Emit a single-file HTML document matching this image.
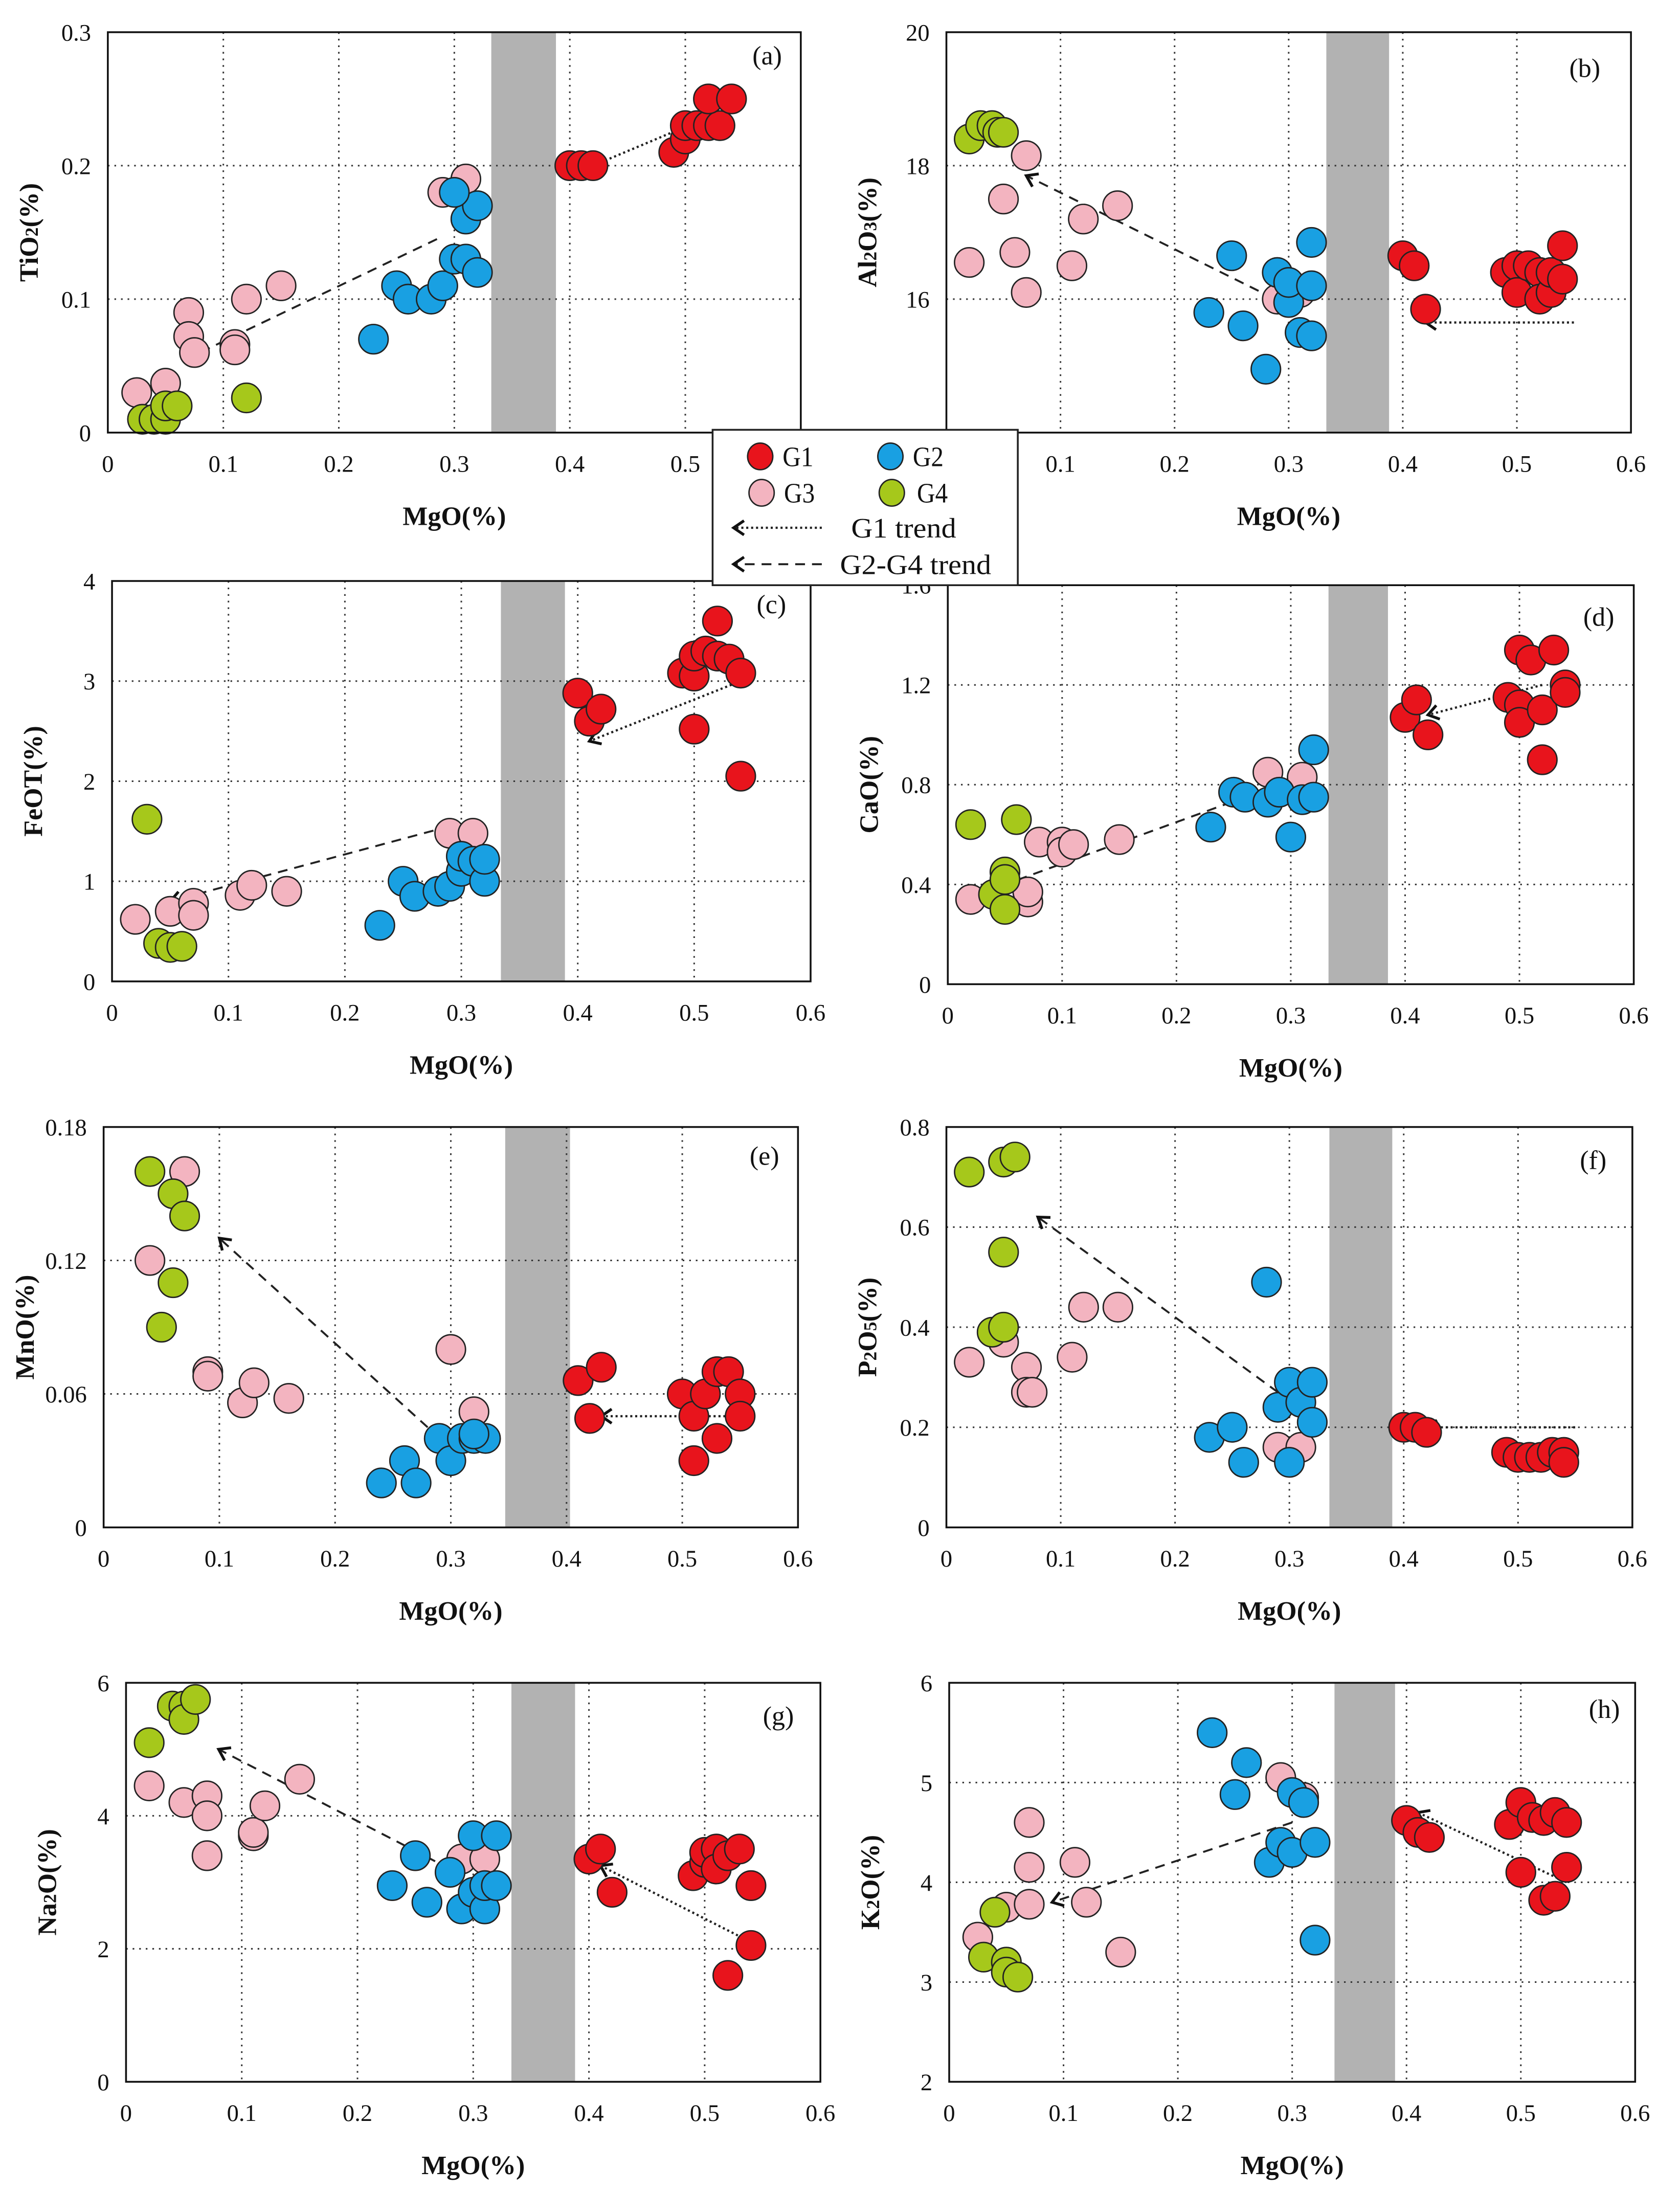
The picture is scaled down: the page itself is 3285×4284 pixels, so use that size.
<!DOCTYPE html>
<html><head><meta charset="utf-8"><style>
html,body{margin:0;padding:0;background:#fff}
svg{display:block}
text{font-family:"Liberation Serif",serif;fill:#111}
</style></head><body>
<svg id="fig" width="3285" height="4284" viewBox="0 0 1200 1565" xmlns="http://www.w3.org/2000/svg">
<rect width="1200" height="1565" fill="#fff"/>
</svg>
<script>
// ---- data (MgO %, oxide %) ----
const xTicks = [0,0.1,0.2,0.3,0.4,0.5,0.6];
const tiG1x=[0.40,0.41,0.42,0.49,0.50,0.50,0.51,0.52,0.53,0.52,0.54];
const tiG1y=[0.20,0.20,0.20,0.21,0.22,0.23,0.23,0.23,0.23,0.25,0.25];
const tiG2x=[0.23,0.25,0.26,0.28,0.29,0.30,0.31,0.32,0.31,0.32,0.30];
const tiG2y=[0.07,0.11,0.10,0.10,0.11,0.13,0.13,0.12,0.16,0.17,0.18];
const tiG3x=[0.025,0.05,0.07,0.07,0.075,0.11,0.11,0.12,0.15,0.29,0.31];
const tiG3y=[0.03,0.037,0.09,0.072,0.06,0.066,0.062,0.10,0.11,0.18,0.19];
const tiG4x=[0.03,0.04,0.05,0.05,0.06,0.12];
const tiG4y=[0.01,0.01,0.01,0.02,0.02,0.026];

const alG1x=[0.40,0.41,0.42,0.49,0.50,0.50,0.51,0.52,0.52,0.53,0.53,0.54,0.54];
const alG1y=[16.65,16.5,15.85,16.4,16.5,16.1,16.5,16.4,16.0,16.1,16.4,16.3,16.8];
const alG2x=[0.23,0.25,0.26,0.28,0.29,0.30,0.30,0.31,0.32,0.32,0.32];
const alG2y=[15.8,16.65,15.6,14.95,16.4,15.95,16.25,15.5,15.45,16.2,16.85];
const alG3x=[0.02,0.05,0.06,0.07,0.07,0.11,0.12,0.15,0.29,0.31];
const alG3y=[16.55,17.5,16.7,16.1,18.15,16.5,17.2,17.4,16.0,16.1];
const alG4x=[0.02,0.03,0.04,0.045,0.05];
const alG4y=[18.4,18.6,18.6,18.5,18.5];

const feG1x=[0.40,0.41,0.42,0.49,0.50,0.50,0.50,0.51,0.52,0.52,0.53,0.54,0.54];
const feG1y=[2.88,2.6,2.72,3.08,3.05,3.25,2.52,3.3,3.25,3.6,3.22,3.08,2.05];
const feG2x=[0.23,0.25,0.26,0.28,0.29,0.30,0.30,0.31,0.32,0.32];
const feG2y=[0.56,1.0,0.85,0.9,0.95,1.1,1.25,1.2,1.0,1.22];
const feG3x=[0.02,0.05,0.07,0.07,0.11,0.12,0.15,0.29,0.31];
const feG3y=[0.62,0.7,0.78,0.66,0.86,0.96,0.9,1.48,1.48];
const feG4x=[0.03,0.04,0.05,0.06];
const feG4y=[1.62,0.38,0.34,0.35];

const caG1x=[0.40,0.41,0.42,0.49,0.50,0.50,0.50,0.51,0.52,0.52,0.53,0.54,0.54];
const caG1y=[1.07,1.14,1.0,1.15,1.12,1.05,1.34,1.3,1.1,0.9,1.34,1.2,1.17];
const caG2x=[0.23,0.25,0.26,0.28,0.29,0.30,0.31,0.32,0.32];
const caG2y=[0.63,0.77,0.75,0.73,0.77,0.59,0.74,0.75,0.94];
const caG3x=[0.02,0.07,0.07,0.08,0.10,0.10,0.11,0.15,0.28,0.31];
const caG3y=[0.34,0.33,0.37,0.57,0.57,0.53,0.56,0.58,0.85,0.83];
const caG4x=[0.02,0.04,0.05,0.05,0.05,0.06];
const caG4y=[0.64,0.36,0.3,0.45,0.42,0.66];

const mnG1x=[0.41,0.42,0.43,0.50,0.51,0.51,0.52,0.53,0.53,0.54,0.55,0.55];
const mnG1y=[0.066,0.049,0.072,0.06,0.05,0.03,0.06,0.07,0.04,0.07,0.06,0.05];
const mnG2x=[0.24,0.26,0.27,0.29,0.30,0.31,0.32,0.33,0.32];
const mnG2y=[0.02,0.03,0.02,0.04,0.03,0.04,0.04,0.04,0.042];
const mnG3x=[0.04,0.07,0.09,0.09,0.12,0.13,0.16,0.30,0.32];
const mnG3y=[0.12,0.16,0.07,0.068,0.056,0.065,0.058,0.08,0.052];
const mnG4x=[0.04,0.05,0.06,0.06,0.07];
const mnG4y=[0.16,0.09,0.15,0.11,0.14];

const pG1x=[0.40,0.41,0.42,0.49,0.50,0.51,0.52,0.53,0.54,0.54];
const pG1y=[0.2,0.2,0.19,0.15,0.14,0.14,0.14,0.15,0.15,0.13];
const pG2x=[0.23,0.25,0.26,0.28,0.29,0.30,0.31,0.32,0.32,0.30];
const pG2y=[0.18,0.2,0.13,0.49,0.24,0.29,0.25,0.29,0.21,0.13];
const pG3x=[0.02,0.05,0.07,0.07,0.075,0.11,0.12,0.15,0.29,0.31];
const pG3y=[0.33,0.37,0.32,0.27,0.27,0.34,0.44,0.44,0.16,0.16];
const pG4x=[0.02,0.04,0.05,0.05,0.05,0.06];
const pG4y=[0.71,0.39,0.4,0.55,0.73,0.74];

const naG1x=[0.40,0.41,0.42,0.49,0.50,0.50,0.51,0.51,0.52,0.53,0.54,0.54,0.52];
const naG1y=[3.35,3.5,2.85,3.1,3.3,3.45,3.5,3.2,3.4,3.5,2.95,2.05,1.6];
const naG2x=[0.23,0.25,0.26,0.28,0.29,0.30,0.30,0.31,0.31,0.32,0.32];
const naG2y=[2.95,3.4,2.7,3.15,2.6,2.85,3.7,2.6,2.95,2.95,3.7];
const naG3x=[0.02,0.05,0.07,0.07,0.07,0.11,0.11,0.12,0.15,0.29,0.31];
const naG3y=[4.45,4.2,4.3,4.0,3.4,3.7,3.75,4.15,4.55,3.35,3.35];
const naG4x=[0.02,0.04,0.05,0.05,0.06];
const naG4y=[5.1,5.65,5.65,5.45,5.75];

const kG1x=[0.40,0.41,0.42,0.49,0.50,0.50,0.51,0.52,0.52,0.53,0.53,0.54,0.54];
const kG1y=[4.62,4.5,4.45,4.58,4.8,4.1,4.65,3.82,4.62,4.7,3.86,4.6,4.15];
const kG2x=[0.23,0.25,0.26,0.28,0.29,0.30,0.30,0.31,0.32,0.32];
const kG2y=[5.5,4.88,5.2,4.2,4.4,4.3,4.9,4.8,4.4,3.42];
const kG3x=[0.025,0.05,0.07,0.07,0.07,0.11,0.12,0.15,0.29,0.31];
const kG3y=[3.45,3.75,4.6,4.15,3.78,4.2,3.8,3.3,5.05,4.85];
const kG4x=[0.04,0.03,0.05,0.05,0.06];
const kG4y=[3.7,3.25,3.2,3.1,3.05];

const colors={G1:'#e8141c',G2:'#19a0e2',G3:'#f3b4c0',G4:'#a6c81b'};
const NS='http://www.w3.org/2000/svg';
const svg=document.getElementById('fig');
function mk(tag,attrs,parent){const e=document.createElementNS(NS,tag);for(const k in attrs)e.setAttribute(k,attrs[k]);(parent||svg).appendChild(e);return e;}

const panels=[
 {id:'a',ox:'TiO',sub:'2',box:[77,23,572,309],ymin:0,ymax:0.3,yt:[0,0.1,0.2,0.3],yfmt:v=>v===0?'0':v.toFixed(1),band:[0.332,0.388],lab:[548,46],
  g:[[tiG1x,tiG1y],[tiG2x,tiG2y],[tiG3x,tiG3y],[tiG4x,tiG4y]],dot:[0.53,0.24,0.42,0.20],dash:[0.285,0.145,0.075,0.058]},
 {id:'b',ox:'Al',sub:'2',ox2:'O',sub2:'3',box:[676,23,1165,309],ymin:14,ymax:20,yt:[16,18,20],yfmt:v=>String(v),band:[0.333,0.388],lab:[1132,55],
  g:[[alG1x,alG1y],[alG2x,alG2y],[alG3x,alG3y],[alG4x,alG4y]],dot:[0.55,15.65,0.42,15.65],dash:[0.30,15.9,0.07,17.85]},
 {id:'c',ox:'FeOT',box:[80,415,579,701],ymin:0,ymax:4,yt:[0,1,2,3,4],yfmt:v=>String(v),band:[0.334,0.389],lab:[551,438],
  g:[[feG1x,feG1y],[feG2x,feG2y],[feG3x,feG3y],[feG4x,feG4y]],dot:[0.54,3.0,0.41,2.4],dash:[0.29,1.55,0.05,0.8]},
 {id:'d',ox:'CaO',box:[677,418,1167,703],ymin:0,ymax:1.6,yt:[0,0.4,0.8,1.2,1.6],yfmt:v=>v===0?'0':v.toFixed(1),band:[0.333,0.385],lab:[1142,447],
  g:[[caG1x,caG1y],[caG2x,caG2y],[caG3x,caG3y],[caG4x,caG4y]],dot:[0.52,1.2,0.42,1.08],dash:[0.29,0.8,0.05,0.4]},
 {id:'e',ox:'MnO',box:[74,805,570,1091],ymin:0,ymax:0.18,yt:[0,0.06,0.12,0.18],yfmt:v=>v===0?'0':v.toFixed(2),band:[0.347,0.403],lab:[546,832],
  g:[[mnG1x,mnG1y],[mnG2x,mnG2y],[mnG3x,mnG3y],[mnG4x,mnG4y]],dot:[0.55,0.05,0.43,0.05],dash:[0.28,0.045,0.10,0.13]},
 {id:'f',ox:'P',sub:'2',ox2:'O',sub2:'5',box:[676,805,1166,1091],ymin:0,ymax:0.8,yt:[0,0.2,0.4,0.6,0.8],yfmt:v=>v===0?'0':v.toFixed(1),band:[0.335,0.39],lab:[1138,835],
  g:[[pG1x,pG1y],[pG2x,pG2y],[pG3x,pG3y],[pG4x,pG4y]],dot:[0.55,0.2,0.42,0.2],dash:[0.29,0.27,0.08,0.62]},
 {id:'g',ox:'Na',sub:'2',ox2:'O',box:[90,1202,586,1487],ymin:0,ymax:6,yt:[0,2,4,6],yfmt:v=>String(v),band:[0.333,0.388],lab:[556,1232],
  g:[[naG1x,naG1y],[naG2x,naG2y],[naG3x,naG3y],[naG4x,naG4y]],dot:[0.54,2.1,0.41,3.25],dash:[0.28,3.2,0.08,5.0]},
 {id:'h',ox:'K',sub:'2',ox2:'O',box:[678,1202,1168,1487],ymin:2,ymax:6,yt:[2,3,4,5,6],yfmt:v=>String(v),band:[0.337,0.39],lab:[1146,1227],
  g:[[kG1x,kG1y],[kG2x,kG2y],[kG3x,kG3y],[kG4x,kG4y]],dot:[0.54,4.0,0.41,4.7],dash:[0.30,4.6,0.09,3.8]}
];
const gnames=['G1','G2','G3','G4'];

function arrow(g,x1,y1,x2,y2,dash,name){
  const l=mk('line',{x1,y1,x2,y2,stroke:'#222','stroke-width':dash==='dot'?1.6:1.4,'stroke-dasharray':dash==='dot'?'1.5 2':'7 5'},g);
  
  
  const a=Math.atan2(y1-y2,x1-x2),L=9,s=0.6;
  const p=mk('polyline',{points:`${x2+L*Math.cos(a+s)},${y2+L*Math.sin(a+s)} ${x2},${y2} ${x2+L*Math.cos(a-s)},${y2+L*Math.sin(a-s)}`,fill:'none',stroke:'#111','stroke-width':2},g);
  
  
}

panels.forEach(P=>{
  const [L,T,R,B]=P.box;
  const xs=v=>L+(v/0.6)*(R-L);
  const ys=v=>B-(v-P.ymin)/(P.ymax-P.ymin)*(B-T);
  const g=mk('g',{});
  
  
  const band=mk('rect',{x:xs(P.band[0]),y:T,width:xs(P.band[1])-xs(P.band[0]),height:B-T,fill:'#b2b2b2'},g);
  
  
  xTicks.forEach(v=>{
    if(v>0&&v<0.6){const l=mk('line',{x1:xs(v),x2:xs(v),y1:T,y2:B,stroke:'#333','stroke-width':1.1,'stroke-dasharray':'1.2 3.5'},g);
      
      }
    const t=mk('text',{x:xs(v),y:B+28,'text-anchor':'middle','font-size':17},g);t.textContent=v===0?'0':v.toFixed(1);
    
    
  });
  P.yt.forEach(v=>{
    if(v>P.ymin&&v<P.ymax){const l=mk('line',{x1:L,x2:R,y1:ys(v),y2:ys(v),stroke:'#333','stroke-width':1.1,'stroke-dasharray':'1.2 3.5'},g);
      
      }
    const t=mk('text',{x:L-12,y:ys(v)+6,'text-anchor':'end','font-size':17},g);t.textContent=P.yfmt(v);
    
    
  });
  arrow(g,xs(P.dot[0]),ys(P.dot[1]),xs(P.dot[2]),ys(P.dot[3]),'dot','g1-trend-arrow');
  arrow(g,xs(P.dash[0]),ys(P.dash[1]),xs(P.dash[2]),ys(P.dash[3]),'dash','g2-g4-trend-arrow');
  [2,3,1,0].forEach(gi=>{
    const [X,Y]=P.g[gi];
    X.forEach((xv,i)=>{
      const c=mk('ellipse',{cx:xs(xv),cy:ys(Y[i]),rx:10.5,ry:10.5,fill:colors[gnames[gi]],stroke:'#222','stroke-width':1},g);
      
      
    });
  });
  const fr=mk('rect',{x:L,y:T,width:R-L,height:B-T,fill:'none',stroke:'#111','stroke-width':1.3},g);
  
  
  const lb=mk('text',{x:P.lab[0],y:P.lab[1],'text-anchor':'middle','font-size':19},g);lb.textContent='('+P.id+')';
  
  
  const xt=mk('text',{x:(L+R)/2,y:B+66,'text-anchor':'middle','font-size':19,'font-weight':'bold'},g);xt.textContent='MgO(%)';
  
  
  const cy=(T+B)/2,cx=L-50;
  const yt=mk('text',{x:cx,y:cy,'text-anchor':'middle','font-size':19,'font-weight':'bold',transform:`rotate(-90 ${cx} ${cy})`},g);
  
  
  let html=P.ox;
  if(P.sub) html+=`<tspan font-size="13">${P.sub}</tspan>`;
  if(P.ox2) html+=P.ox2;
  if(P.sub2) html+=`<tspan font-size="13">${P.sub2}</tspan>`;
  html+='(%)';
  yt.innerHTML=html;
});

// legend
const lg=mk('g',{});


const lr=mk('rect',{x:509,y:307,width:218,height:111,fill:'#fff',stroke:'#222','stroke-width':1.3},lg);


const lent=[['G1',543,326,559],['G2',636,326,652],['G3',544,352,560],['G4',637,352,655]];
lent.forEach(([n,x,y,tx])=>{
  const c=mk('ellipse',{cx:x,cy:y,rx:9,ry:9.5,fill:colors[n],stroke:'#222','stroke-width':1},lg);
  
  
  const t=mk('text',{x:tx,y:y+7,'font-size':20,textLength:22,lengthAdjust:'spacingAndGlyphs'},lg);t.textContent=n;
  
  
});
arrow(lg,587,377,524,377,'dot','legend-g1-trend');
arrow(lg,587,403,524,403,'dash','legend-g2-g4-trend');
const t1=mk('text',{x:608,y:384,'font-size':20,textLength:75,lengthAdjust:'spacingAndGlyphs'},lg);t1.textContent='G1 trend';


const t2=mk('text',{x:600,y:410,'font-size':20,textLength:108,lengthAdjust:'spacingAndGlyphs'},lg);t2.textContent='G2-G4 trend';


</script>
</body></html>
